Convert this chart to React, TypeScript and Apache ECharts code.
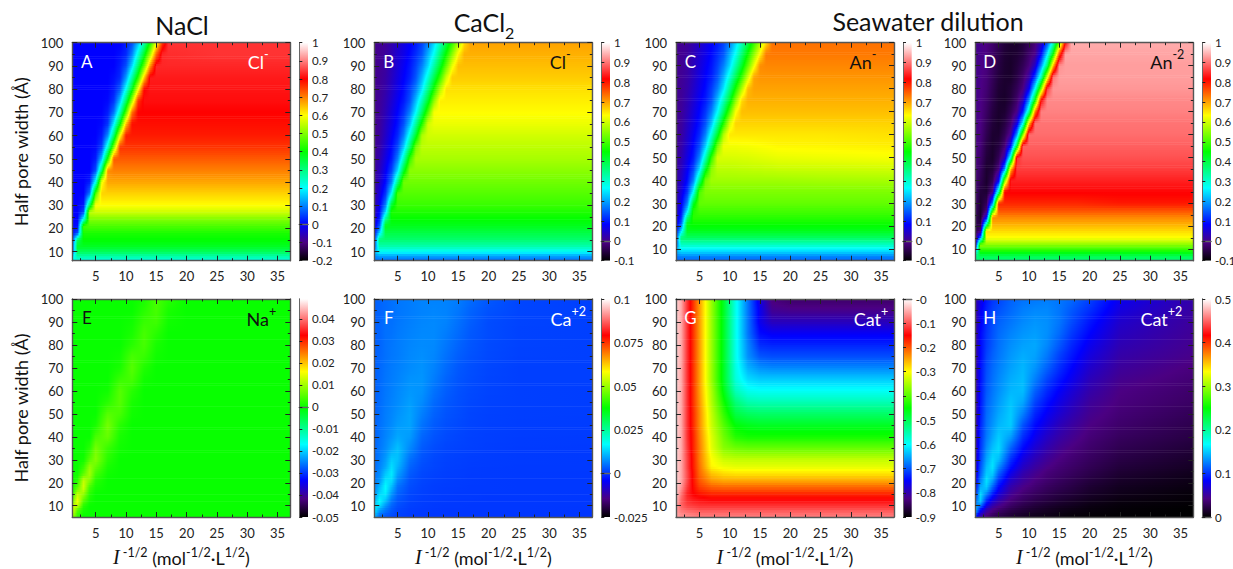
import React, { useEffect, useRef } from "react";
import * as echarts from "echarts";

const X_FINE = [1, 2, 3, 4, 5, 6, 7, 8, 9, 10, 11, 12, 13, 14, 15, 16, 17, 18, 25, 37];
const X_NODES = [1, 2, 3, 4, 5, 7, 9, 11, 13, 15, 17, 20, 25, 37];
const Y_NODES = [100, 95, 90, 85, 80, 75, 70, 65, 60, 55, 50, 45, 40, 35, 30, 27, 24, 21, 18, 15, 12, 10, 8, 6];
const X_MAJOR = [5, 10, 15, 20, 25, 30, 35];
const X_MINOR = [2.5, 7.5, 12.5, 17.5, 22.5, 27.5, 32.5];
const Y_MAJOR = [10, 20, 30, 40, 50, 60, 70, 80, 90, 100];
const Y_MINOR = [15, 25, 35, 45, 55, 65, 75, 85, 95];

const valuesA = [
  [0,0,0,0,0,0,0,0,0,.02,.06,.15,.27,.42,.59,.76,.84,.84,.84,.84],
  [0,0,0,0,0,0,0,0,.01,.03,.1,.23,.37,.53,.72,.83,.835,.835,.84,.84],
  [0,0,0,0,0,0,0,0,.02,.06,.17,.32,.48,.68,.83,.83,.83,.83,.83,.83],
  [0,0,0,0,0,0,0,.01,.03,.12,.27,.43,.64,.82,.82,.82,.82,.82,.82,.82],
  [0,0,0,0,0,0,0,.02,.07,.21,.38,.59,.8,.815,.815,.815,.815,.815,.815,.815],
  [0,0,0,0,0,0,.005,.04,.15,.32,.53,.76,.81,.81,.81,.81,.81,.81,.81,.81],
  [0,0,0,0,0,0,.02,.09,.25,.46,.71,.8,.8,.8,.8,.8,.8,.8,.8,.8],
  [0,0,0,0,0,.005,.04,.19,.39,.65,.79,.79,.79,.79,.79,.79,.79,.79,.79,.79],
  [0,0,0,0,0,.02,.11,.32,.59,.78,.78,.78,.78,.78,.78,.78,.78,.78,.78,.78],
  [0,0,0,0,.005,.05,.24,.5,.76,.76,.76,.76,.76,.76,.76,.76,.76,.76,.76,.76],
  [0,0,0,0,.02,.15,.42,.73,.73,.73,.73,.73,.73,.73,.73,.73,.73,.73,.73,.73],
  [0,0,0,0,.06,.32,.69,.7,.7,.7,.7,.7,.7,.7,.7,.7,.7,.7,.7,.7],
  [0,0,0,.02,.21,.59,.67,.67,.67,.67,.67,.67,.67,.67,.67,.67,.67,.67,.67,.67],
  [0,0,0,.09,.46,.635,.635,.635,.635,.635,.635,.635,.635,.635,.635,.635,.635,.635,.635,.635],
  [0,0,.02,.32,.6,.6,.6,.6,.6,.6,.6,.6,.6,.6,.6,.6,.6,.6,.6,.6],
  [0,0,.06,.55,.56,.56,.56,.56,.56,.56,.56,.56,.56,.56,.56,.56,.56,.56,.56,.56],
  [0,0,.21,.5,.5,.5,.5,.5,.5,.5,.5,.5,.5,.5,.5,.5,.5,.5,.5,.5],
  [0,.01,.45,.46,.46,.46,.46,.46,.46,.46,.46,.46,.46,.46,.46,.46,.46,.46,.46,.46],
  [0,.06,.42,.42,.42,.42,.42,.42,.42,.42,.42,.42,.42,.42,.42,.42,.42,.42,.42,.42],
  [0,.32,.4,.4,.4,.4,.4,.4,.4,.4,.4,.4,.4,.4,.4,.4,.4,.4,.4,.4],
  [0,.37,.37,.37,.37,.37,.37,.37,.37,.37,.37,.37,.37,.37,.37,.37,.37,.37,.37,.37],
  [.02,.33,.33,.33,.33,.33,.33,.33,.33,.33,.33,.33,.33,.33,.33,.33,.33,.33,.33,.33],
  [.16,.27,.27,.27,.27,.27,.27,.27,.27,.27,.27,.27,.27,.27,.27,.27,.27,.27,.27,.27],
  [.22,.22,.22,.22,.22,.22,.22,.22,.22,.22,.22,.22,.22,.22,.22,.22,.22,.22,.22,.22],
];
const valuesB = [
  [0,.003,.008,.025,.044,.062,.08,.1,.13,.175,.24,.315,.4,.485,.57,.66,.7,.7,.7,.7],
  [0,.003,.01,.028,.05,.067,.088,.115,.145,.21,.275,.367,.457,.55,.64,.69,.69,.69,.69,.69],
  [0,.004,.013,.034,.055,.076,.097,.13,.175,.24,.33,.42,.52,.62,.68,.68,.68,.68,.68,.68],
  [0,.005,.016,.037,.061,.082,.105,.145,.21,.295,.393,.49,.6,.67,.67,.67,.67,.67,.67,.67],
  [0,.006,.02,.043,.067,.09,.125,.175,.25,.355,.465,.575,.655,.655,.655,.655,.655,.655,.655,.655],
  [0,.007,.025,.05,.076,.1,.14,.22,.315,.42,.55,.645,.645,.645,.645,.645,.645,.645,.645,.645],
  [0,.008,.03,.058,.085,.12,.175,.265,.38,.505,.63,.635,.635,.635,.635,.635,.635,.635,.635,.635],
  [0,.009,.037,.065,.095,.14,.22,.34,.47,.6,.62,.62,.62,.62,.62,.62,.62,.62,.62,.62],
  [.001,.012,.043,.076,.11,.175,.29,.42,.575,.6,.6,.6,.6,.6,.6,.6,.6,.6,.6,.6],
  [.001,.018,.052,.087,.135,.23,.37,.535,.585,.585,.585,.585,.585,.585,.585,.585,.585,.585,.585,.585],
  [.003,.025,.063,.1,.175,.315,.485,.57,.57,.57,.57,.57,.57,.57,.57,.57,.57,.57,.57,.57],
  [.004,.034,.076,.13,.24,.42,.55,.55,.55,.55,.55,.55,.55,.55,.55,.55,.55,.55,.55,.55],
  [.006,.043,.09,.175,.355,.53,.53,.53,.53,.53,.53,.53,.53,.53,.53,.53,.53,.53,.53,.53],
  [.008,.058,.12,.265,.505,.51,.51,.51,.51,.51,.51,.51,.51,.51,.51,.51,.51,.51,.51,.51],
  [.012,.076,.175,.42,.49,.49,.49,.49,.49,.49,.49,.49,.49,.49,.49,.49,.49,.49,.49,.49],
  [.02,.09,.24,.47,.47,.47,.47,.47,.47,.47,.47,.47,.47,.47,.47,.47,.47,.47,.47,.47],
  [.03,.11,.35,.45,.45,.45,.45,.45,.45,.45,.45,.45,.45,.45,.45,.45,.45,.45,.45,.45],
  [.04,.15,.43,.43,.43,.43,.43,.43,.43,.43,.43,.43,.43,.43,.43,.43,.43,.43,.43,.43],
  [.055,.24,.4,.4,.4,.4,.4,.4,.4,.4,.4,.4,.4,.4,.4,.4,.4,.4,.4,.4],
  [.075,.37,.37,.37,.37,.37,.37,.37,.37,.37,.37,.37,.37,.37,.37,.37,.37,.37,.37,.37],
  [.11,.32,.32,.32,.32,.32,.32,.32,.32,.32,.32,.32,.32,.32,.32,.32,.32,.32,.32,.32],
  [.2,.27,.27,.27,.27,.27,.27,.27,.27,.27,.27,.27,.27,.27,.27,.27,.27,.27,.27,.27],
  [.18,.2,.2,.2,.2,.2,.2,.2,.2,.2,.2,.2,.2,.2,.2,.2,.2,.2,.2,.2],
  [.16,.16,.16,.16,.16,.16,.16,.16,.16,.16,.16,.16,.16,.16,.16,.16,.16,.16,.16,.16],
];
const valuesC = [
  [0,.003,.008,.025,.044,.062,.08,.1,.13,.175,.24,.315,.4,.485,.57,.66,.735,.735,.735,.735],
  [0,.003,.01,.028,.05,.067,.088,.115,.145,.21,.275,.367,.457,.55,.64,.73,.73,.73,.73,.73],
  [0,.004,.013,.034,.055,.076,.097,.13,.175,.24,.33,.42,.52,.62,.715,.72,.72,.72,.72,.72],
  [0,.005,.016,.037,.061,.082,.105,.145,.21,.295,.393,.49,.6,.7,.71,.71,.71,.71,.71,.71],
  [0,.006,.02,.043,.067,.09,.125,.175,.25,.355,.465,.575,.68,.7,.7,.7,.7,.7,.7,.7],
  [0,.007,.025,.05,.076,.1,.14,.22,.315,.42,.55,.66,.69,.69,.69,.69,.69,.69,.69,.69],
  [0,.008,.03,.058,.085,.12,.175,.265,.38,.505,.63,.68,.68,.68,.68,.68,.68,.68,.68,.68],
  [0,.009,.037,.065,.095,.14,.22,.34,.47,.6,.665,.665,.665,.665,.665,.665,.665,.665,.665,.665],
  [.001,.012,.043,.076,.11,.175,.29,.42,.575,.65,.65,.65,.65,.65,.65,.65,.65,.65,.65,.655],
  [.001,.018,.052,.087,.135,.23,.37,.535,.625,.625,.625,.627,.628,.63,.632,.634,.636,.638,.64,.645],
  [.003,.025,.063,.1,.175,.315,.485,.605,.605,.605,.606,.607,.608,.61,.612,.614,.616,.618,.622,.628],
  [.004,.034,.076,.13,.24,.42,.55,.585,.585,.585,.586,.587,.588,.59,.59,.592,.592,.594,.596,.6],
  [.006,.043,.09,.175,.355,.53,.565,.565,.565,.565,.565,.565,.565,.565,.565,.565,.565,.565,.568,.57],
  [.008,.058,.12,.265,.505,.54,.54,.54,.54,.54,.54,.54,.54,.54,.54,.54,.54,.54,.54,.54],
  [.012,.076,.175,.42,.52,.52,.52,.52,.52,.52,.52,.52,.52,.52,.52,.52,.52,.52,.52,.52],
  [.02,.09,.24,.47,.5,.5,.5,.5,.5,.5,.5,.5,.5,.5,.5,.5,.5,.5,.5,.5],
  [.03,.11,.35,.48,.48,.48,.48,.48,.48,.48,.48,.48,.48,.48,.48,.48,.48,.48,.48,.48],
  [.04,.15,.44,.455,.455,.455,.455,.455,.455,.455,.455,.455,.455,.455,.455,.455,.455,.455,.455,.455],
  [.055,.24,.43,.43,.43,.43,.43,.43,.43,.43,.43,.43,.43,.43,.43,.43,.43,.43,.43,.43],
  [.075,.37,.38,.38,.38,.38,.38,.38,.38,.38,.38,.38,.38,.38,.38,.38,.38,.38,.38,.38],
  [.11,.31,.31,.31,.31,.31,.31,.31,.31,.31,.31,.31,.31,.31,.31,.31,.31,.31,.31,.31],
  [.2,.26,.26,.26,.26,.26,.26,.26,.26,.26,.26,.26,.26,.26,.26,.26,.26,.26,.26,.26],
  [.18,.21,.21,.21,.21,.21,.21,.21,.21,.21,.21,.21,.21,.21,.21,.21,.21,.21,.21,.21],
  [.15,.16,.16,.16,.16,.16,.16,.16,.16,.16,.16,.16,.16,.16,.16,.16,.16,.16,.16,.16],
];
const valuesD = [
  [0,-.002,-.009,-.025,-.043,-.059,-.067,-.07,-.058,-.04,-.015,.03,.135,.305,.53,.82,.94,.94,.94,.94],
  [0,-.003,-.01,-.028,-.048,-.063,-.068,-.064,-.052,-.026,-.004,.086,.25,.454,.76,.935,.935,.935,.935,.935],
  [0,-.004,-.013,-.034,-.053,-.066,-.07,-.058,-.04,-.014,.044,.185,.37,.68,.92,.93,.93,.93,.93,.93],
  [0,-.005,-.016,-.037,-.058,-.067,-.069,-.052,-.026,.018,.128,.318,.61,.9,.93,.93,.93,.93,.93,.93],
  [0,-.006,-.02,-.043,-.063,-.068,-.06,-.04,-.01,.072,.266,.536,.86,.925,.925,.925,.925,.925,.925,.925],
  [0,-.007,-.025,-.048,-.066,-.07,-.056,-.026,.03,.185,.45,.82,.915,.915,.915,.915,.915,.915,.915,.915],
  [0,-.008,-.03,-.055,-.068,-.065,-.04,-.006,.1,.33,.72,.91,.91,.91,.91,.91,.91,.91,.91,.91],
  [0,-.009,-.037,-.06,-.07,-.054,-.022,.055,.26,.66,.9,.9,.9,.9,.9,.9,.9,.9,.9,.9],
  [0,-.012,-.043,-.066,-.066,-.04,.005,.185,.536,.895,.895,.895,.895,.895,.895,.895,.895,.895,.895,.895],
  [0,-.017,-.052,-.068,-.056,-.018,.093,.415,.885,.885,.885,.885,.885,.885,.885,.885,.885,.885,.885,.885],
  [-.003,-.025,-.059,-.07,-.04,.03,.305,.85,.875,.875,.875,.875,.875,.875,.875,.875,.875,.875,.875,.875],
  [-.004,-.034,-.066,-.059,-.014,.185,.68,.86,.86,.86,.86,.86,.86,.86,.86,.86,.86,.86,.86,.86],
  [-.006,-.043,-.068,-.04,.072,.536,.84,.84,.84,.84,.84,.84,.84,.84,.84,.84,.84,.84,.84,.84],
  [-.008,-.058,-.064,-.005,.33,.82,.82,.82,.82,.82,.82,.82,.82,.82,.82,.82,.82,.82,.82,.82],
  [-.012,-.066,-.04,.185,.79,.79,.79,.79,.79,.79,.79,.79,.79,.79,.79,.79,.79,.79,.8,.8],
  [-.02,-.068,-.015,.454,.76,.76,.76,.76,.76,.76,.76,.76,.76,.76,.76,.76,.76,.76,.76,.76],
  [-.03,-.07,.072,.72,.72,.72,.72,.72,.72,.72,.72,.72,.72,.72,.72,.72,.72,.72,.72,.72],
  [-.04,-.052,.33,.69,.69,.69,.69,.69,.69,.69,.69,.69,.69,.69,.69,.69,.69,.69,.69,.69],
  [-.055,-.015,.66,.66,.66,.66,.66,.66,.66,.66,.66,.66,.66,.66,.66,.66,.66,.66,.66,.66],
  [-.065,.185,.63,.63,.63,.63,.63,.63,.63,.63,.63,.63,.63,.63,.63,.63,.63,.63,.63,.63],
  [-.07,.55,.55,.55,.55,.55,.55,.55,.55,.55,.55,.55,.55,.55,.55,.55,.55,.55,.55,.55],
  [.1,.49,.49,.49,.49,.49,.49,.49,.49,.49,.49,.49,.49,.49,.49,.49,.49,.49,.49,.49],
  [.3,.42,.42,.42,.42,.42,.42,.42,.42,.42,.42,.42,.42,.42,.42,.42,.42,.42,.42,.42],
  [.36,.37,.37,.37,.37,.37,.37,.37,.37,.37,.37,.37,.37,.37,.37,.37,.37,.37,.37,.37],
];
const valuesE = [
  [0,0,0,0,0,0,0,0,.001,.004,.002,0,0,0],
  [0,0,0,0,0,0,0,0,.002,.004,.001,0,0,0],
  [0,0,0,0,0,0,0,.0005,.003,.0035,.0005,0,0,0],
  [0,0,0,0,0,0,0,.001,.004,.002,0,0,0,0],
  [0,0,0,0,0,0,0,.002,.004,.001,0,0,0,0],
  [0,0,0,0,0,0,.0005,.004,.003,.0005,0,0,0,0],
  [0,0,0,0,0,0,.001,.005,.0015,0,0,0,0,0],
  [0,0,0,0,0,0,.003,.004,.0005,0,0,0,0,0],
  [0,0,0,0,0,.0005,.005,.002,0,0,0,0,0,0],
  [0,0,0,0,0,.002,.005,.001,0,0,0,0,0,0],
  [0,0,0,0,0,.005,.004,.0005,0,0,0,0,0,0],
  [0,0,0,0,.001,.007,.002,0,0,0,0,0,0,0],
  [0,0,0,0,.004,.006,.001,0,0,0,0,0,0,0],
  [0,0,0,.002,.007,.003,.0005,0,0,0,0,0,0,0],
  [0,0,.0005,.005,.008,.002,0,0,0,0,0,0,0,0],
  [0,0,.003,.009,.006,.001,0,0,0,0,0,0,0,0],
  [0,.0005,.005,.01,.004,.0005,0,0,0,0,0,0,0,0],
  [0,.002,.012,.008,.002,0,0,0,0,0,0,0,0,0],
  [0,.005,.013,.004,.001,0,0,0,0,0,0,0,0,0],
  [.001,.012,.009,.002,0,0,0,0,0,0,0,0,0,0],
  [.005,.015,.005,.001,0,0,0,0,0,0,0,0,0,0],
  [.013,.012,.002,0,0,0,0,0,0,0,0,0,0,0],
  [.016,.005,.001,0,0,0,0,0,0,0,0,0,0,0],
  [.012,.003,0,0,0,0,0,0,0,0,0,0,0,0],
];
const valuesF = [
  [.0035,.004,.0045,.005,.0055,.006,.0065,.0065,.0065,.006,.0045,.003,.0015,.001],
  [.0035,.004,.0045,.005,.0055,.006,.0065,.0068,.0065,.0055,.004,.0025,.0015,.001],
  [.0035,.004,.005,.005,.0055,.0062,.0068,.007,.0065,.005,.0035,.002,.0013,.001],
  [.0035,.004,.005,.0052,.0058,.0065,.007,.007,.006,.0045,.003,.002,.0012,.001],
  [.0035,.004,.005,.0055,.006,.0068,.0072,.007,.0055,.004,.0028,.0018,.0012,.001],
  [.0035,.0042,.005,.0056,.006,.007,.0075,.0068,.005,.0035,.0025,.0017,.0011,.001],
  [.0035,.0043,.0052,.0058,.0063,.0072,.0078,.0065,.0045,.003,.0022,.0015,.001,.001],
  [.0035,.0044,.0054,.006,.0066,.0078,.008,.006,.004,.0027,.002,.0014,.001,.001],
  [.0035,.0045,.0055,.0062,.007,.0082,.0078,.0052,.0035,.0024,.0018,.0013,.001,.0008],
  [.0035,.0046,.0057,.0065,.0072,.0088,.0072,.0045,.003,.0022,.0016,.0012,.001,.0008],
  [.0035,.0048,.006,.0068,.0078,.0092,.0062,.0038,.0026,.002,.0014,.0011,.0009,.0008],
  [.0035,.005,.0062,.0072,.0085,.0092,.0052,.0032,.0022,.0017,.0013,.001,.0008,.0007],
  [.0036,.0052,.0066,.008,.0095,.0085,.0042,.0026,.0018,.0014,.0011,.0009,.0007,.0006],
  [.0038,.0055,.0072,.0095,.0115,.007,.0032,.002,.0014,.0012,.001,.0008,.0006,.0005],
  [.004,.006,.0085,.0125,.0115,.005,.0025,.0016,.0012,.001,.0008,.0007,.0006,.0005],
  [.004,.0065,.0095,.014,.0105,.004,.002,.0014,.001,.0009,.0007,.0006,.0005,.0005],
  [.0045,.0072,.012,.015,.009,.0032,.0017,.0012,.0009,.0008,.0006,.0006,.0005,.0004],
  [.005,.008,.0145,.014,.007,.0025,.0014,.001,.0008,.0007,.0006,.0005,.0004,.0004],
  [.0055,.011,.0165,.011,.005,.002,.0012,.0008,.0007,.0006,.0005,.0005,.0004,.0004],
  [.0065,.0135,.015,.008,.0038,.0016,.001,.0007,.0006,.0005,.0005,.0004,.0004,.0003],
  [.009,.0165,.0115,.0055,.0028,.0013,.0008,.0006,.0005,.0004,.0004,.0003,.0003,.0003],
  [.014,.014,.008,.004,.0022,.001,.0007,.0005,.0004,.0004,.0003,.0003,.0003,.0003],
  [.0165,.009,.0055,.003,.0016,.0008,.0005,.0004,.0003,.0003,.0003,.0003,.0003,.0002],
  [.012,.005,.003,.002,.0012,.0006,.0004,.0003,.0003,.0002,.0002,.0002,.0002,.0002],
];
const valuesG = [
  [-.02,-.05,-.12,-.18,-.24,-.36,-.47,-.59,-.68,-.77,-.83,-.84,-.84,-.84],
  [-.02,-.05,-.12,-.18,-.24,-.36,-.47,-.59,-.68,-.76,-.815,-.82,-.82,-.82],
  [-.02,-.05,-.12,-.18,-.24,-.36,-.47,-.59,-.68,-.76,-.79,-.79,-.79,-.79],
  [-.02,-.05,-.12,-.18,-.24,-.36,-.47,-.59,-.68,-.745,-.755,-.755,-.755,-.755],
  [-.02,-.05,-.12,-.18,-.24,-.36,-.47,-.59,-.67,-.725,-.73,-.73,-.73,-.73],
  [-.02,-.05,-.12,-.18,-.24,-.36,-.47,-.59,-.665,-.7,-.705,-.705,-.705,-.705],
  [-.02,-.05,-.12,-.18,-.24,-.36,-.47,-.585,-.645,-.665,-.67,-.67,-.67,-.67],
  [-.02,-.05,-.12,-.18,-.24,-.36,-.47,-.58,-.62,-.63,-.63,-.63,-.63,-.63],
  [-.02,-.05,-.12,-.18,-.24,-.35,-.46,-.56,-.59,-.595,-.595,-.595,-.595,-.595],
  [-.02,-.05,-.12,-.18,-.235,-.345,-.44,-.52,-.55,-.555,-.555,-.555,-.555,-.555],
  [-.02,-.05,-.12,-.175,-.23,-.335,-.42,-.49,-.505,-.51,-.51,-.51,-.51,-.51],
  [-.02,-.05,-.12,-.175,-.23,-.33,-.4,-.455,-.465,-.47,-.47,-.47,-.47,-.47],
  [-.02,-.05,-.12,-.17,-.225,-.32,-.385,-.43,-.44,-.44,-.44,-.44,-.44,-.44],
  [-.02,-.05,-.115,-.17,-.22,-.315,-.37,-.385,-.39,-.39,-.39,-.39,-.39,-.39],
  [-.02,-.05,-.11,-.165,-.22,-.3,-.33,-.335,-.335,-.335,-.335,-.335,-.335,-.335],
  [-.02,-.05,-.11,-.165,-.215,-.295,-.31,-.315,-.315,-.315,-.315,-.315,-.315,-.315],
  [-.02,-.05,-.105,-.16,-.21,-.265,-.28,-.285,-.285,-.285,-.285,-.285,-.285,-.285],
  [-.02,-.05,-.105,-.16,-.2,-.24,-.25,-.25,-.25,-.25,-.25,-.25,-.25,-.25],
  [-.02,-.06,-.115,-.155,-.185,-.205,-.21,-.21,-.21,-.21,-.21,-.21,-.21,-.21],
  [-.02,-.08,-.13,-.15,-.16,-.17,-.17,-.17,-.17,-.17,-.17,-.17,-.17,-.17],
  [-.03,-.09,-.12,-.13,-.135,-.14,-.14,-.14,-.14,-.14,-.14,-.14,-.14,-.14],
  [-.04,-.09,-.11,-.115,-.12,-.12,-.12,-.12,-.12,-.12,-.12,-.12,-.12,-.12],
  [-.05,-.08,-.09,-.095,-.1,-.1,-.1,-.1,-.1,-.1,-.1,-.1,-.1,-.1],
  [-.05,-.065,-.07,-.075,-.08,-.08,-.08,-.08,-.08,-.08,-.08,-.08,-.08,-.08],
];
const valuesH = [
  [.05,.075,.09,.1,.105,.115,.12,.122,.124,.122,.118,.105,.078,.055],
  [.045,.08,.095,.105,.11,.118,.125,.128,.128,.122,.112,.098,.072,.052],
  [.045,.08,.098,.108,.115,.122,.128,.132,.13,.122,.108,.09,.066,.05],
  [.045,.085,.1,.11,.118,.126,.132,.135,.13,.118,.102,.084,.062,.048],
  [.045,.085,.102,.112,.12,.13,.136,.138,.128,.112,.096,.078,.058,.046],
  [.045,.085,.105,.115,.122,.133,.14,.136,.122,.104,.09,.072,.054,.044],
  [.045,.088,.108,.118,.125,.136,.143,.132,.115,.098,.084,.066,.05,.04],
  [.045,.088,.11,.12,.128,.14,.145,.125,.105,.09,.078,.06,.046,.037],
  [.045,.09,.112,.122,.13,.143,.145,.115,.096,.082,.07,.055,.042,.034],
  [.045,.09,.115,.125,.134,.148,.138,.105,.088,.075,.064,.05,.04,.032],
  [.045,.092,.118,.128,.138,.15,.125,.095,.08,.068,.058,.046,.037,.028],
  [.045,.095,.12,.132,.143,.15,.11,.086,.072,.06,.052,.042,.034,.025],
  [.048,.098,.123,.138,.15,.135,.098,.078,.064,.054,.047,.038,.03,.022],
  [.05,.1,.13,.146,.155,.115,.085,.068,.056,.047,.041,.034,.026,.018],
  [.052,.105,.138,.155,.145,.098,.072,.058,.048,.041,.036,.03,.022,.014],
  [.055,.11,.145,.158,.13,.088,.064,.052,.043,.037,.033,.027,.019,.012],
  [.058,.115,.15,.15,.115,.076,.056,.046,.038,.034,.03,.024,.016,.009],
  [.062,.125,.158,.135,.1,.065,.05,.041,.035,.03,.026,.02,.013,.007],
  [.07,.14,.15,.115,.085,.055,.043,.036,.03,.026,.022,.016,.01,.005],
  [.085,.155,.125,.092,.07,.047,.036,.03,.025,.021,.018,.013,.008,.003],
  [.11,.15,.095,.07,.055,.038,.03,.024,.02,.016,.013,.009,.005,.002],
  [.14,.12,.075,.055,.045,.032,.024,.019,.015,.012,.01,.006,.003,.001],
  [.16,.085,.055,.042,.034,.024,.018,.014,.011,.008,.006,.004,.002,0],
  [.11,.06,.04,.03,.025,.017,.012,.009,.007,.005,.003,.002,.001,0],
];

const TENTHS_LONG = ["1","0.9","0.8","0.7","0.6","0.5","0.4","0.3","0.2","0.1","0","-0.1","-0.2"];
const TENTHS = ["1","0.9","0.8","0.7","0.6","0.5","0.4","0.3","0.2","0.1","0","-0.1"];
const TICKS_E = ["0.04","0.03","0.02","0.01","0","-0.01","-0.02","-0.03","-0.04","-0.05"];
const TICKS_F = ["0.1","0.075","0.05","0.025","0","-0.025"];
const TICKS_G = ["-0","-0.1","-0.2","-0.3","-0.4","-0.5","-0.6","-0.7","-0.8","-0.9"];
const TICKS_H = ["0.5","0.4","0.3","0.2","0.1","0"];

const PALETTE_POS = [0, 1 / 12, 1 / 6, 1 / 3, 1 / 2, 2 / 3, 5 / 6, 1];
const PALETTE_RGB = [
  [0, 0, 0], [75, 0, 130], [0, 0, 255], [0, 255, 255],
  [0, 255, 0], [255, 255, 0], [255, 0, 0], [255, 255, 255],
];

const FONT = "Lato";
const X_MIN = 1.14;
const X_MAX = 37.1;
const X_START = 1;
const X_END = 37.2;
const TOP1 = 42.7;
const TOP2 = 299;
const PLOT = 218;
const LEFTS = [72.3, 374.3, 676, 975.3];
const BAR_OFFSET = 227;
const STRIP_PX = 2;

function colorAt(t: number) {
  const f = Math.min(1, Math.max(0, t));
  let i = 0;
  while (i < PALETTE_POS.length - 2 && f > PALETTE_POS[i + 1]) i++;
  const k = (f - PALETTE_POS[i]) / (PALETTE_POS[i + 1] - PALETTE_POS[i]);
  const a = PALETTE_RGB[i];
  const b = PALETTE_RGB[i + 1];
  return `rgb(${a.map((c, n) => Math.round(c + (b[n] - c) * k)).join(",")})`;
}

function rowGradient(nodes: number[], vals: number[], vMin: number, vMax: number) {
  const off = (x: number) => (x - X_START) / (X_END - X_START);
  const frac = (v: number) => (v - vMin) / (vMax - vMin);
  const stops: { offset: number; color: string }[] = [];
  vals.forEach((v, i) => {
    const fa = frac(v);
    stops.push({ offset: off(nodes[i]), color: colorAt(fa) });
    if (i < vals.length - 1) {
      const fb = frac(vals[i + 1]);
      const crossings = PALETTE_POS.filter((p) => p > Math.min(fa, fb) && p < Math.max(fa, fb));
      if (fa > fb) crossings.reverse();
      crossings.forEach((p) => {
        const k = (p - fa) / (fb - fa);
        stops.push({ offset: off(nodes[i] + (nodes[i + 1] - nodes[i]) * k), color: colorAt(p) });
      });
    }
  });
  return { type: "linear", x: 0, y: 0, x2: 1, y2: 0, colorStops: stops };
}

const SUP = { fontFamily: FONT, fontSize: 12.5, fontWeight: "normal", verticalAlign: "top" };

const PANELS = [
  { letter: "A", ion: "Cl", sup: "-", values: valuesA, nodes: X_FINE, col: 0, row: 0, yMin: 6.1, vMin: -0.2, vMax: 1, ticks: TENTHS_LONG, lc: "#fff", ic: "#fff", ix: 186 },
  { letter: "B", ion: "Cl", sup: "-", values: valuesB, nodes: X_FINE, col: 1, row: 0, yMin: 6.1, vMin: -0.1, vMax: 1, ticks: TENTHS, lc: "#fff", ic: "#111", ix: 186 },
  { letter: "C", ion: "An", sup: "-", values: valuesC, nodes: X_FINE, col: 2, row: 0, yMin: 5.1, vMin: -0.1, vMax: 1, ticks: TENTHS, lc: "#fff", ic: "#111", ix: 187 },
  { letter: "D", ion: "An", sup: "-2", values: valuesD, nodes: X_FINE, col: 3, row: 0, yMin: 5.1, vMin: -0.1, vMax: 1, ticks: TENTHS, lc: "#fff", ic: "#111", ix: 192 },
  { letter: "E", ion: "Na", sup: "+", values: valuesE, nodes: X_NODES, col: 0, row: 1, yMin: 5.1, vMin: -0.05, vMax: 0.049, ticks: TICKS_E, lc: "#111", ic: "#111", ix: 189 },
  { letter: "F", ion: "Ca", sup: "+2", values: valuesF, nodes: X_NODES, col: 1, row: 1, yMin: 5.1, vMin: -0.025, vMax: 0.1, ticks: TICKS_F, lc: "#fff", ic: "#fff", ix: 194 },
  { letter: "G", ion: "Cat", sup: "+", values: valuesG, nodes: X_NODES, col: 2, row: 1, yMin: 5.1, vMin: -0.9, vMax: 0, ticks: TICKS_G, lc: "#fff", ic: "#fff", ix: 195 },
  { letter: "H", ion: "Cat", sup: "+2", values: valuesH, nodes: X_NODES, col: 3, row: 1, yMin: 5.1, vMin: 0, vMax: 0.5, ticks: TICKS_H, lc: "#fff", ic: "#fff", ix: 186 },
];

const HEADINGS = [
  { text: "NaCl", x: 182, y: 12 },
  { text: "{h|CaCl}{d|2}", x: 484, y: 9 },
  { text: "Seawater dilution", x: 928, y: 8 },
];

function buildOption() {
  const grid: any[] = [];
  const xAxis: any[] = [];
  const yAxis: any[] = [];
  const series: any[] = [];
  const title: any[] = [];

  const tickLine = { color: "#222", width: 1 };
  const frame = { show: true, lineStyle: { color: "#555", width: 1.4 } };
  const noLine = { show: false };

  HEADINGS.forEach((h) => {
    title.push({
      text: h.text, left: h.x, top: h.y, padding: 0, textAlign: "center",
      textStyle: {
        fontFamily: FONT, fontSize: 25, lineHeight: 26, fontWeight: "normal", color: "#111",
        rich: {
          h: { fontFamily: FONT, fontSize: 25, fontWeight: "normal", color: "#111", verticalAlign: "top", lineHeight: 31 },
          d: { fontFamily: FONT, fontSize: 16, fontWeight: "normal", color: "#111", verticalAlign: "bottom" },
        },
      },
    });
  });

  PANELS.forEach((p) => {
    const left = LEFTS[p.col];
    const top = p.row === 0 ? TOP1 : TOP2;
    const g = grid.length;

    title.push({
      text: p.letter, left: left + 14.5, top: top + 10, padding: 0, textAlign: "center",
      textStyle: { fontFamily: FONT, fontSize: 17, fontWeight: "normal", color: p.lc },
    });
    title.push({
      text: `{b|${p.ion}}{s|${p.sup}}`, left: left + p.ix, top: top + 5.5, padding: 0, textAlign: "center",
      textStyle: {
        fontWeight: "normal",
        rich: {
          b: { fontFamily: FONT, fontSize: 18, fontWeight: "normal", color: p.ic, verticalAlign: "bottom", lineHeight: 23 },
          s: { ...SUP, color: p.ic },
        },
      },
    });

    // plot frame with major ticks, a second overlay with the minor ticks
    [0, 1].forEach((layer) => {
      grid.push({ left, top, width: PLOT, height: PLOT, outerBoundsMode: "none" });
      const gi = g + layer;
      const xVals = layer === 0 ? X_MAJOR : X_MINOR;
      const yVals = layer === 0 ? Y_MAJOR : Y_MINOR;
      const len = layer === 0 ? 5 : 2.5;
      const line = layer === 0 ? frame : noLine;
      xAxis.push({
        type: "value", gridIndex: gi, position: "bottom", min: X_MIN, max: X_MAX, z: 6,
        axisLine: line, splitLine: { show: false },
        axisTick: { show: true, inside: true, length: len, lineStyle: tickLine, customValues: xVals },
        axisLabel: layer === 0
          ? { show: true, customValues: xVals, margin: 9, fontFamily: FONT, fontSize: 13, color: "#222" }
          : { show: false },
        ...(layer === 0 && p.row === 1
          ? {
              name: "{i|I}{s| -1/2}{r| (mol}{s|-1/2}{r|·L}{s|1/2}{r|)}",
              nameLocation: "middle", nameGap: 29,
              nameTextStyle: {
                rich: {
                  i: { fontFamily: "Liberation Serif", fontStyle: "italic", fontSize: 20, color: "#111", verticalAlign: "bottom", lineHeight: 21 },
                  r: { fontFamily: FONT, fontSize: 18, color: "#111", verticalAlign: "bottom", lineHeight: 21 },
                  s: { ...SUP, color: "#111" },
                },
              },
            }
          : {}),
      });
      xAxis.push({
        type: "value", gridIndex: gi, position: "top", min: X_MIN, max: X_MAX, z: 6,
        axisLine: line, splitLine: { show: false },
        axisTick: { show: true, inside: true, length: len, lineStyle: tickLine, customValues: xVals },
        axisLabel: { show: false },
      });
      yAxis.push({
        type: "value", gridIndex: gi, position: "left", min: p.yMin, max: 100, z: 6,
        axisLine: line, splitLine: { show: false },
        axisTick: { show: true, inside: true, length: len, lineStyle: tickLine, customValues: yVals },
        axisLabel: layer === 0
          ? { show: true, customValues: yVals, margin: 9, fontFamily: FONT, fontSize: 13, color: "#222" }
          : { show: false },
        ...(layer === 0 && p.col === 0
          ? {
              name: "Half pore width (Å)", nameLocation: "middle", nameGap: 42, nameRotate: 90,
              nameTextStyle: { fontFamily: FONT, fontSize: 18, color: "#111" },
            }
          : {}),
      });
      yAxis.push({
        type: "value", gridIndex: gi, position: "right", min: p.yMin, max: 100, z: 6,
        axisLine: line, splitLine: { show: false },
        axisTick: { show: true, inside: true, length: len, lineStyle: tickLine, customValues: yVals },
        axisLabel: { show: false },
      });
    });

    const majorX = xAxis.length - 4;
    const majorY = yAxis.length - 4;
    series.push({
      type: "custom", xAxisIndex: majorX, yAxisIndex: majorY, clip: true, silent: true, z: 2,
      data: p.values.map((vals, j) => [j, ...vals]),
      // each gap between two read rows is shaded smoothly, like gnuplot's pm3d
      renderItem: (_params: any, api: any) => {
        const j = api.value(0);
        const upper = p.nodes.map((_x, i) => api.value(i + 1));
        const lower = p.values[j + 1] ?? upper;
        const yHigh = Y_NODES[j];
        const yLow = j === Y_NODES.length - 1 ? 0 : Y_NODES[j + 1];
        const a = api.coord([X_START, yHigh]);
        const b = api.coord([X_END, yLow]);
        const height = b[1] - a[1];
        const n = Math.max(1, Math.round(height / STRIP_PX));
        const children: any[] = [];
        for (let s = 0; s < n; s++) {
          const t = (s + 0.5) / n;
          const vals = upper.map((u, i) => u + (lower[i] - u) * t);
          children.push({
            type: "rect",
            shape: { x: a[0], y: a[1] + (height * s) / n, width: b[0] - a[0], height: height / n + 0.6 },
            style: { fill: rowGradient(p.nodes, vals, p.vMin, p.vMax) },
          });
        }
        return { type: "group", children };
      },
    });

    // colour bar
    grid.push({ left: left + BAR_OFFSET, top, width: 8.7, height: PLOT, outerBoundsMode: "none" });
    const barG = grid.length - 1;
    const barValues = p.ticks.map(Number);
    xAxis.push({
      type: "value", gridIndex: barG, position: "bottom", min: 0, max: 1, z: 6,
      axisLine: { show: true, lineStyle: { color: "#666", width: 1 } }, splitLine: { show: false }, axisTick: { show: false }, axisLabel: { show: false },
    });
    const barX = xAxis.length - 1;
    xAxis.push({
      type: "value", gridIndex: barG, position: "top", min: 0, max: 1, z: 6,
      axisLine: { show: true, lineStyle: { color: "#666", width: 1.4 } }, splitLine: { show: false }, axisTick: { show: false }, axisLabel: { show: false },
    });
    yAxis.push({
      type: "value", gridIndex: barG, position: "right", min: p.vMin, max: p.vMax, z: 6,
      axisLine: { show: true, lineStyle: { color: "#666", width: 1 } }, splitLine: { show: false },
      axisTick: { show: true, inside: false, length: 3, lineStyle: { color: "#222", width: 1 }, customValues: barValues },
      axisLabel: {
        show: true, customValues: barValues, margin: 4, fontFamily: FONT, fontSize: 11.5, color: "#222",
        formatter: (v: number) => p.ticks.find((s) => Number(s) === v) ?? String(v),
      },
    });
    const barY = yAxis.length - 1;
    yAxis.push({
      type: "value", gridIndex: barG, position: "left", min: p.vMin, max: p.vMax, z: 6,
      axisLine: { show: true, lineStyle: { color: "#666", width: 1 } }, splitLine: { show: false }, axisTick: { show: false }, axisLabel: { show: false },
    });
    series.push({
      type: "custom", xAxisIndex: barX, yAxisIndex: barY, clip: true, silent: true, z: 2,
      data: [[0, p.vMin, 1, p.vMax]],
      renderItem: (_params: any, api: any) => {
        const a = api.coord([api.value(0), api.value(3)]);
        const b = api.coord([api.value(2), api.value(1)]);
        return {
          type: "rect",
          shape: { x: a[0], y: a[1], width: b[0] - a[0], height: b[1] - a[1] },
          style: {
            fill: {
              type: "linear", x: 0, y: 1, x2: 0, y2: 0,
              colorStops: PALETTE_POS.map((pos) => ({ offset: pos, color: colorAt(pos) })),
            },
          },
        };
      },
    });
  });

  return { animation: false, backgroundColor: "#fff", title, grid, xAxis, yAxis, series };
}

export default function App() {
  const ref = useRef<HTMLDivElement>(null);
  useEffect(() => {
    document.body.style.margin = "0";
    const chart = echarts.init(ref.current!, undefined, { renderer: "svg" });
    chart.setOption(buildOption() as any);
    return () => chart.dispose();
  }, []);
  return <div ref={ref} style={{ width: 1233, height: 569 }} />;
}
